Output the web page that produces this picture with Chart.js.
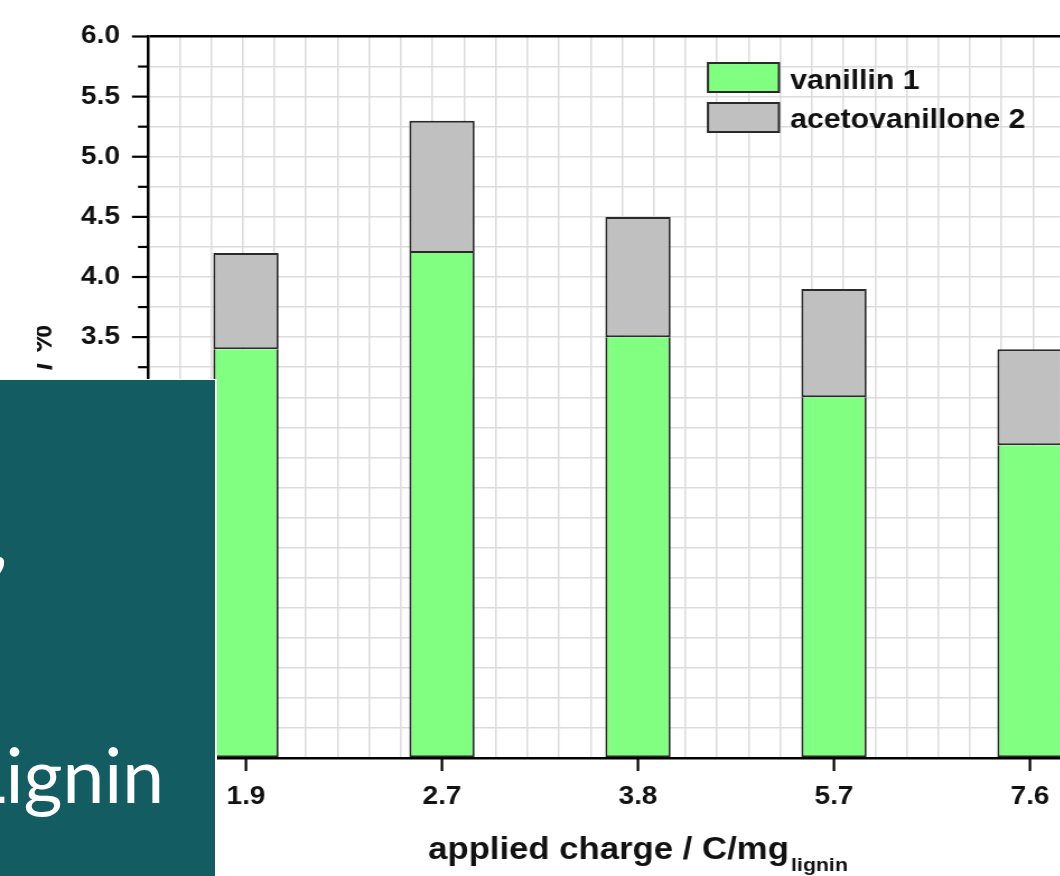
<!DOCTYPE html>
<html>
<head>
<meta charset="utf-8">
<script src="https://cdn.jsdelivr.net/npm/chart.js@4.4.1/dist/chart.umd.min.js"></script>
<style>
  html, body { margin: 0; padding: 0; width: 1060px; height: 876px; overflow: hidden; background: #fff; }
  /* the figure in the slide is stretched a bit horizontally */
  #wrap { position: absolute; left: 0; top: 0; width: 1040px; height: 876px; transform: scaleX(1.12); transform-origin: 0 0; }
  #slideBox {
    position: absolute; left: 0; top: 379px; width: 215px; height: 497px;
    background: #125c62; border-top: 1px solid #fff; border-right: 2px solid #fff;
    overflow: hidden; color: #fff; font-family: Lato, "Open Sans", sans-serif; font-size: 75px; line-height: 75px;
  }
  #slideBox span { position: absolute; white-space: nowrap; }
</style>
</head>
<body>
<div id="wrap"><canvas id="c" width="1040" height="876"></canvas></div>
<div id="slideBox">
  <span style="left:-9px; top:120px;">,</span>
  <span style="left:-33px; top:357px;">Lignin</span>
</div>
<script>
// data
const charges = ['1.9', '2.7', '3.8', '5.7', '7.6'];
const vanillin = [3.4, 4.2, 3.5, 3.0, 2.6];
const acetovanillone = [0.8, 1.1, 1.0, 0.9, 0.8];
const seriesNames = ['vanillin 1', 'acetovanillone 2'];
const seriesColors = ['#80ff80', '#c0c0c0'];
const yTitle = 'yield / %';
const xTitle = 'applied charge / C/mg';
const xTitleSub = 'lignin';

const FONT = '"Liberation Sans", Arial, sans-serif';
const INK = '#111';

// ticks, axis titles and legend drawn by hand (minor ticks + subscript)
const framePlugin = {
  id: 'frameBits',
  afterDraw(chart) {
    const ctx = chart.ctx;
    const area = chart.chartArea;
    const y = chart.scales.y, x = chart.scales.x;
    ctx.save();
    ctx.strokeStyle = '#000';
    ctx.lineWidth = 2.2;
    // y ticks: long at 0.5, short at 0.25
    y.ticks.forEach(t => {
      const py = y.getPixelForValue(t.value);
      const len = (Math.round(t.value * 100) % 50 === 0) ? 14.3 : 8.9;
      ctx.beginPath();
      ctx.moveTo(area.left - len, py);
      ctx.lineTo(area.left, py);
      ctx.stroke();
    });
    // x ticks at bar centres
    charges.forEach((c, i) => {
      const px = x.getPixelForTick(i);
      ctx.beginPath();
      ctx.moveTo(px, area.bottom);
      ctx.lineTo(px, area.bottom + 13);
      ctx.stroke();
    });

    // y title (mostly hidden by the slide box)
    ctx.save();
    ctx.beginPath();
    ctx.rect(33, 0, 60, 876);
    ctx.clip();
    ctx.translate(37.5, (area.top + area.bottom) / 2 - 10);
    ctx.rotate(-Math.PI / 2);
    ctx.fillStyle = INK;
    ctx.font = 'bold 31px ' + FONT;
    ctx.textAlign = 'center';
    ctx.textBaseline = 'middle';
    ctx.fillText(yTitle, 0, 0);
    ctx.restore();

    // x title with subscript
    ctx.fillStyle = INK;
    ctx.textBaseline = 'alphabetic';
    ctx.textAlign = 'left';
    ctx.font = 'bold 31px ' + FONT;
    const w1 = ctx.measureText(xTitle).width;
    ctx.font = 'bold 19px ' + FONT;
    const w2 = ctx.measureText(xTitleSub).width;
    const start = (area.left + area.right) / 2 - (w1 + 2 + w2) / 2;
    ctx.font = 'bold 31px ' + FONT;
    ctx.fillText(xTitle, start, 859);
    ctx.font = 'bold 19px ' + FONT;
    ctx.fillText(xTitleSub, start + w1 + 2, 871);

    // legend
    chart.data.datasets.forEach((ds, i) => {
      const bx = area.left + 500, by = 63 + 40 * i;
      ctx.fillStyle = ds.backgroundColor;
      ctx.fillRect(bx, by, 63.4, 29);
      ctx.lineWidth = 2;
      ctx.strokeStyle = '#2a2a2a';
      ctx.strokeRect(bx, by, 63.4, 29);
      ctx.fillStyle = INK;
      ctx.font = 'bold 27px ' + FONT;
      ctx.fillText(ds.label, bx + 73.3, 89 + 39 * i);
    });
    ctx.restore();
  }
};

new Chart(document.getElementById('c'), {
  type: 'bar',
  data: {
    labels: charges,
    datasets: [
      { label: seriesNames[0], data: vanillin, backgroundColor: seriesColors[0],
        borderColor: '#2a2a2a', borderWidth: 2, borderSkipped: 'top', xAxisID: 'x' },
      { label: seriesNames[1], data: acetovanillone, backgroundColor: seriesColors[1],
        borderColor: '#2a2a2a', borderWidth: 2, borderSkipped: false, xAxisID: 'x' }
    ]
  },
  options: {
    responsive: false,
    animation: false,
    devicePixelRatio: 1,
    layout: { padding: { top: 36.5, right: 32.9, left: 0, bottom: 0 } },
    datasets: { bar: { categoryPercentage: 1, barPercentage: 1 / 3 } },
    plugins: { legend: { display: false }, tooltip: { enabled: false } },
    scales: {
      x: {
        type: 'category', stacked: true, position: 'bottom', offset: true,
        grid: { display: false, drawTicks: false },
        border: { display: true, color: '#000', width: 2.5 },
        ticks: { color: INK, font: { family: FONT, size: 25, weight: 'bold' }, padding: 24, maxRotation: 0 },
        afterFit: s => { s.height = 118; }
      },
      xg: {
        type: 'linear', position: 'bottom', min: 0, max: 30,
        ticks: { display: false, stepSize: 1, maxTicksLimit: 100 },
        grid: {
          drawTicks: false, lineWidth: 1.5,
          color: c => (c.tick && c.tick.value === 0) ? 'rgba(0,0,0,0)' : '#dcdcdc'
        },
        border: { display: false },
        afterFit: s => { s.height = 0; }
      },
      y: {
        type: 'linear', stacked: true, min: 0, max: 6,
        ticks: {
          stepSize: 0.25, maxTicksLimit: 100, autoSkip: false, padding: 25,
          color: INK, font: { family: FONT, size: 25, weight: 'bold' },
          callback: v => (Math.round(v * 100) % 50 === 0) ? v.toFixed(1) : ''
        },
        grid: {
          drawTicks: false,
          color: c => (c.tick && (c.tick.value === 6 || c.tick.value === 0)) ? '#000' : '#dcdcdc',
          lineWidth: c => (c.tick && c.tick.value === 6) ? 2.5 : 1.5
        },
        border: { display: true, color: '#000', width: 2.5 },
        afterFit: s => { s.width = 132.1; s.paddingTop = 0; s.paddingBottom = 0; }
      }
    }
  },
  plugins: [framePlugin]
});
</script>
</body>
</html>
